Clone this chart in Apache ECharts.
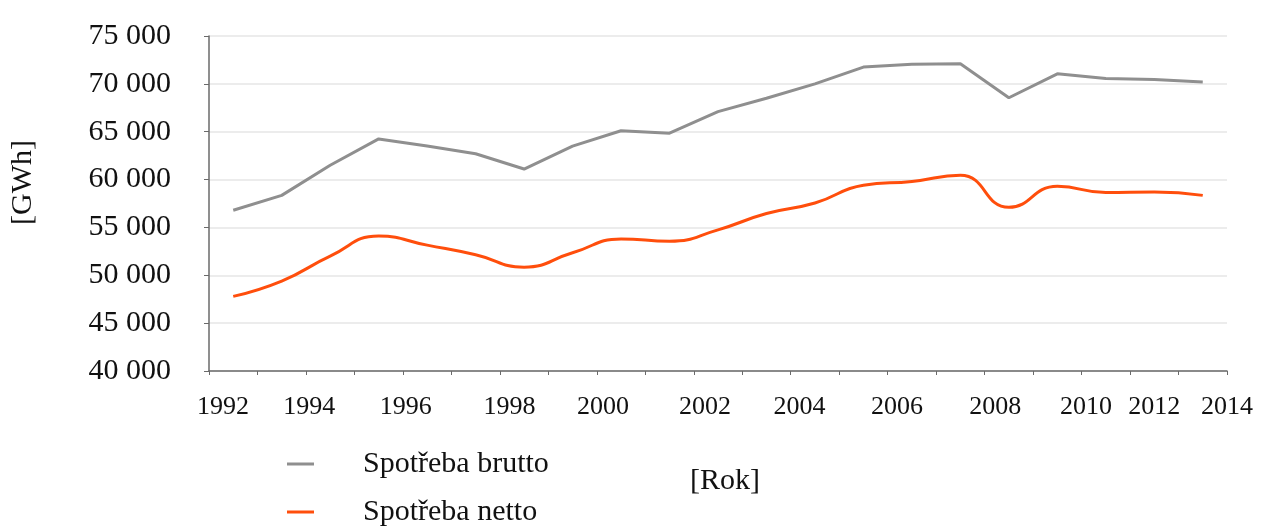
<!DOCTYPE html>
<html>
<head>
<meta charset="utf-8">
<script src="https://cdn.jsdelivr.net/npm/echarts@6/dist/echarts.min.js"></script>
<style>
	html, body { margin: 0; padding: 0; background: #fff; }
	#chart { width: 1268px; height: 526px; }
</style>
</head>
<body>
<div id="chart"></div>
<script>
	// roky dat (jedna hodnota na rok)
	var years = ['1993', '1994', '1995', '1996', '1997', '1998', '1999', '2000', '2001', '2002', '2003',
		'2004', '2005', '2006', '2007', '2008', '2009', '2010', '2011', '2012', '2013'];
	// spotřeba brutto [GWh]
	var brutto = [56800, 58350, 61500, 64250, 63500, 62700, 61100, 63500, 65100, 64850, 67100,
		68500, 70000, 71750, 72050, 72100, 68550, 71050, 70550, 70450, 70200];
	// spotřeba netto [GWh]
	var netto = [47800, 49400, 52000, 54100, 53150, 52150, 50850, 52350, 53800, 53550, 54750,
		56450, 57550, 59400, 59800, 60450, 57100, 59300, 58650, 58700, 58350];
	// popisky osy x
	var yearLabels = ['1992', '1994', '1996', '1998', '2000', '2002', '2004', '2006', '2008', '2010', '2012', '2014'];

	// umístění popisků na ose (v jednotkách kategorií, jako v předloze)
	var labelAt = [0.29, 2.07, 4.06, 6.2, 8.13, 10.23, 12.18, 14.19, 16.22, 18.09, 19.5, 21];

	var font = "'Liberation Serif', 'Times New Roman', serif";
	var grey = '#8f8f8f';
	var orange = '#ff4e0c';

	var myChart = echarts.init(document.getElementById('chart'));
	var option = {
		animation: false,
		grid: { left: 208, right: 41, top: 36, bottom: 155 },
		legend: {
			orient: 'vertical',
			left: 287,
			top: 449,
			height: 120,
			padding: 0,
			icon: 'rect',
			itemWidth: 27,
			itemHeight: 3,
			itemGap: 18,
			data: ['Spotřeba brutto', 'Spotřeba netto'],
			textStyle: {
				fontFamily: font,
				fontSize: 30,
				lineHeight: 30,
				color: '#111',
				padding: [0, 0, 0, 44]
			}
		},
		xAxis: [
			{
				type: 'category',
				data: years,
				boundaryGap: true,
				name: '[Rok]',
				nameLocation: 'middle',
				nameGap: 95,
				nameTextStyle: { fontFamily: font, fontSize: 30, color: '#111', padding: [0, 0, 0, 14] },
				axisLine: { lineStyle: { color: '#6a6a6a', width: 1.5 } },
				axisTick: { show: true, interval: 0, length: 4, lineStyle: { color: '#6a6a6a' } },
				axisLabel: { show: false },
				splitLine: { show: false }
			},
			{
				type: 'value',
				min: 0,
				max: 21,
				position: 'bottom',
				axisLine: { show: false },
				axisTick: { show: false },
				splitLine: { show: false },
				axisLabel: {
					customValues: labelAt,
					margin: 23,
					fontFamily: font,
					fontSize: 26,
					color: '#111',
					formatter: function (v) {
						return yearLabels[labelAt.indexOf(v)];
					}
				}
			}
		],
		yAxis: {
			type: 'value',
			min: 40000,
			max: 75000,
			interval: 5000,
			name: '[GWh]',
			nameLocation: 'middle',
			nameRotate: 90,
			nameGap: 171,
			nameTextStyle: { fontFamily: font, fontSize: 30, color: '#111', padding: [0, 0, 0, 42] },
			axisLine: { show: true, lineStyle: { color: '#6a6a6a', width: 1.5 } },
			axisTick: { show: true, length: 5, lineStyle: { color: '#6a6a6a' } },
			splitLine: { lineStyle: { color: '#e6e6e6', width: 1.5 } },
			axisLabel: {
				margin: 38,
				fontFamily: font,
				fontSize: 30,
				color: '#111',
				formatter: function (v) {
					return String(v).replace(/\B(?=(\d{3})+(?!\d))/g, ' ');
				}
			}
		},
		series: [
			{
				name: 'Spotřeba brutto',
				type: 'line',
				data: brutto,
				showSymbol: false,
				itemStyle: { color: grey },
				lineStyle: { color: grey, width: 3 }
			},
			{
				name: 'Spotřeba netto',
				type: 'line',
				data: netto,
				smooth: true,
				showSymbol: false,
				itemStyle: { color: orange },
				lineStyle: { color: orange, width: 3 }
			}
		]
	};
	myChart.setOption(option);
	window.addEventListener('resize', myChart.resize);
</script>
</body>
</html>
